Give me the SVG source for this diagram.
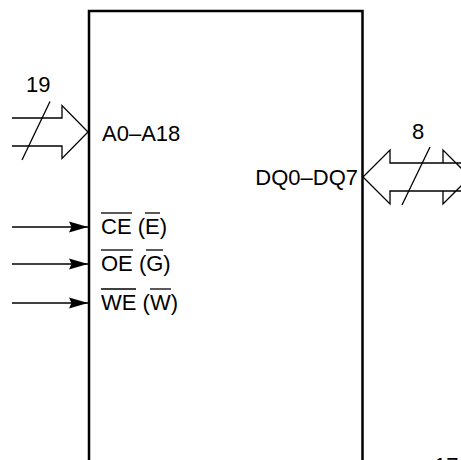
<svg xmlns="http://www.w3.org/2000/svg" width="461" height="460" viewBox="0 0 461 460">
<style>
text{font-family:"Liberation Sans",Arial,sans-serif;font-size:22px;fill:#000}
.ln{stroke:#000;stroke-width:1.3;fill:none}
.bus{stroke:#000;stroke-width:1.3;fill:#fff;stroke-linejoin:miter}
.ob{stroke:#000;stroke-width:1.3}
</style>
<defs>
<marker id="ah" markerWidth="20" markerHeight="12" refX="19" refY="6" orient="auto" markerUnits="userSpaceOnUse">
<path d="M0,0.5 L19,6 L0,11.5 L2.5,6 Z" fill="#000"/>
</marker>
</defs>
<rect width="461" height="460" fill="#fff"/>
<g id="chip">
<path d="M89,470 V11 H362.5 V470" fill="none" stroke="#000" stroke-width="2.5"/>
<text x="102" y="141">A0–A18</text>
<text x="358" y="185" text-anchor="end">DQ0–DQ7</text>
<text x="101" y="234">CE (E)</text>
<text x="101" y="271">OE (G)</text>
<text x="101" y="310">WE (W)</text>
<line class="ob" x1="101" y1="213" x2="132" y2="213"/>
<line class="ob" x1="145" y1="213" x2="160" y2="213"/>
<line class="ob" x1="101" y1="250" x2="133" y2="250"/>
<line class="ob" x1="146" y1="250" x2="163" y2="250"/>
<line class="ob" x1="101" y1="289" x2="136" y2="289"/>
<line class="ob" x1="150" y1="289" x2="171" y2="289"/>
</g>
<g id="connectors">
<g id="addr-bus">
<path class="bus" d="M12,118 H62 V105.5 L88,132 L62,158.5 V146 H12"/>
<line class="ln" x1="50" y1="101.5" x2="22" y2="160"/>
<text x="26" y="92">19</text>
</g>
<g id="data-bus">
<path class="bus" d="M470,163 H443 V150 L470,177 M470,191 H443 V204 L470,177"/>
<path class="bus" d="M443,163 H390 V150 L363,177 L390,204 V191 H443"/>
<line class="ln" x1="430" y1="147" x2="402" y2="205"/>
<text x="412" y="139">8</text>
</g>
<line class="ln" x1="12" y1="227" x2="88" y2="227" marker-end="url(#ah)"/>
<line class="ln" x1="12" y1="264" x2="88" y2="264" marker-end="url(#ah)"/>
<line class="ln" x1="12" y1="303" x2="88" y2="303" marker-end="url(#ah)"/>
</g>
<text x="434" y="473">171</text>
</svg>
